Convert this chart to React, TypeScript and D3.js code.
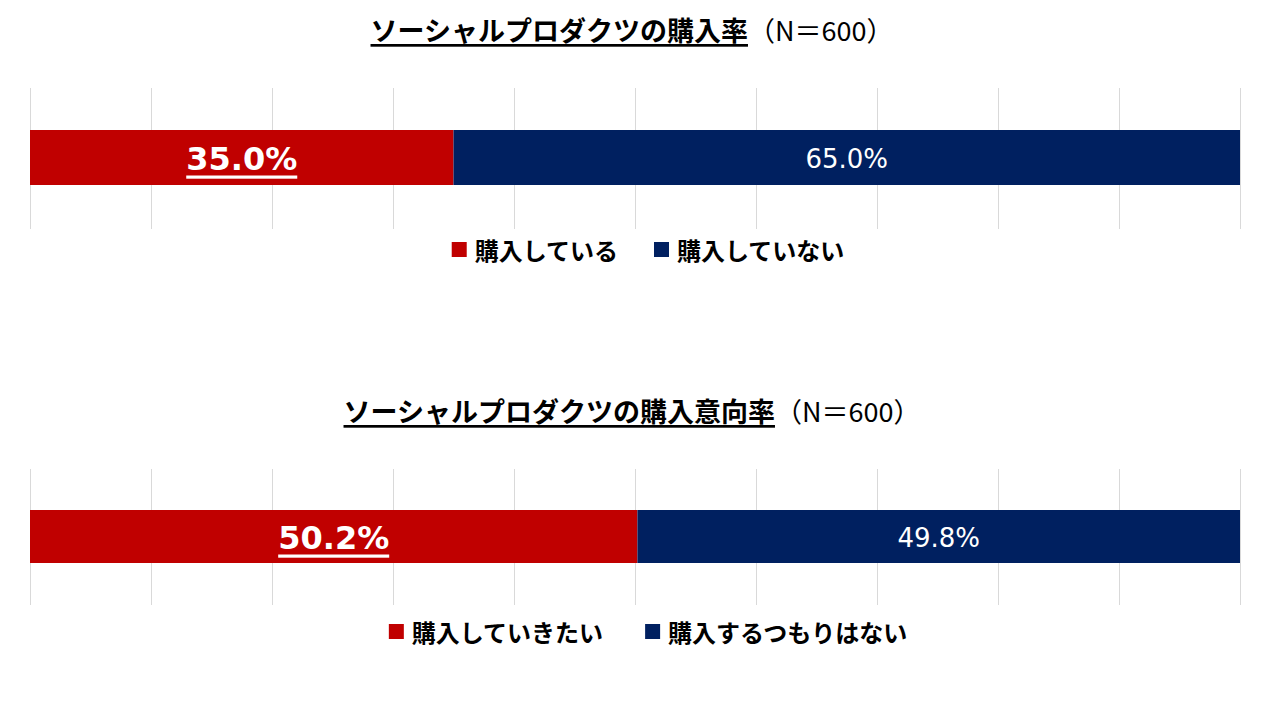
import { useEffect, useRef } from 'react';
import * as d3 from 'd3';

// chart data
const titles = ['ソーシャルプロダクツの購入率', 'ソーシャルプロダクツの購入意向率'];
const sampleNote = '（N＝600）';
const seriesA = [35.0, 50.2]; // red segment
const seriesB = [65.0, 49.8]; // navy segment
const legendA = ['購入している', '購入していきたい'];
const legendB = ['購入していない', '購入するつもりはない'];
const gridTicks = [0, 10, 20, 30, 40, 50, 60, 70, 80, 90, 100];

const RED = '#C00000';
const NAVY = '#002060';
const FONT = '"DejaVu Sans", "Noto Sans CJK JP", sans-serif';
const JP = '"Noto Sans CJK JP", sans-serif';

const panels = [
  { titleY: 29, gridTop: 88, gridBottom: 229, barTop: 130, barBottom: 185, legendY: 249, gap: 36 },
  { titleY: 410, gridTop: 469, gridBottom: 605, barTop: 510, barBottom: 563, legendY: 631, gap: 42 },
];

const App = () => {
  const svgRef = useRef<SVGSVGElement | null>(null);

  useEffect(() => {
    if (!svgRef.current) return;
    const svg = d3.select(svgRef.current);
    svg.selectAll('*').remove();

    const x = d3.scaleLinear().domain([0, 100]).range([30, 1240]);

    panels.forEach((p, i) => {
      const g = svg.append('g');

      // title with underlined main part
      const title = g.append('text')
        .attr('x', 632)
        .attr('y', p.titleY)
        .attr('text-anchor', 'middle')
        .attr('dominant-baseline', 'central')
        .attr('font-family', JP)
        .attr('font-size', 27)
        .attr('fill', '#000');
      title.append('tspan')
        .attr('font-weight', 'bold')
        .attr('text-decoration', 'underline')
        .text(titles[i]);
      title.append('tspan')
        .attr('font-weight', 'normal')
        .text(sampleNote);

      // vertical gridlines
      g.selectAll('line.grid')
        .data(gridTicks)
        .join('line')
        .attr('class', 'grid')
        .attr('x1', (d) => x(d) + 0.5)
        .attr('x2', (d) => x(d) + 0.5)
        .attr('y1', p.gridTop)
        .attr('y2', p.gridBottom)
        .attr('stroke', '#D9D9D9')
        .attr('stroke-width', 1);

      const segs = [
        { start: 0, value: seriesA[i], color: RED, strong: true },
        { start: seriesA[i], value: seriesB[i], color: NAVY, strong: false },
      ];

      g.selectAll('rect.seg')
        .data(segs)
        .join('rect')
        .attr('class', 'seg')
        .attr('x', (d) => x(d.start))
        .attr('y', p.barTop)
        .attr('width', (d) => x(d.start + d.value) - x(d.start))
        .attr('height', p.barBottom - p.barTop)
        .attr('fill', (d) => d.color);

      g.selectAll('text.lbl')
        .data(segs)
        .join('text')
        .attr('class', 'lbl')
        .attr('x', (d) => (x(d.start) + x(d.start + d.value)) / 2)
        .attr('y', (p.barTop + p.barBottom) / 2 + 1)
        .attr('text-anchor', 'middle')
        .attr('dominant-baseline', 'central')
        .attr('font-family', FONT)
        .attr('font-size', (d) => (d.strong ? 32 : 26))
        .attr('font-weight', (d) => (d.strong ? 'bold' : 'normal'))
        .attr('text-decoration', (d) => (d.strong ? 'underline' : 'none'))
        .attr('fill', '#fff')
        .text((d) => `${d.value.toFixed(1)}%`);

      // legend
      const items = [
        { label: legendA[i], color: RED },
        { label: legendB[i], color: NAVY },
      ];
      const leg = g.append('g');
      let cx = 0;
      items.forEach((it, k) => {
        const item = leg.append('g').attr('transform', `translate(${cx},0)`);
        item.append('rect')
          .attr('x', 0)
          .attr('y', p.legendY - 7)
          .attr('width', 15)
          .attr('height', 15)
          .attr('fill', it.color);
        const t = item.append('text')
          .attr('x', 23)
          .attr('y', p.legendY)
          .attr('dominant-baseline', 'central')
          .attr('font-family', JP)
          .attr('font-size', 24)
          .attr('font-weight', 'bold')
          .attr('fill', '#000')
          .text(it.label);
        const w = (t.node() as SVGTextElement).getComputedTextLength();
        cx += 23 + w + (k === 0 ? p.gap : 0);
      });
      leg.attr('transform', `translate(${648 - cx / 2},0)`);
    });
  }, []);

  return (
    <svg
      ref={svgRef}
      width={1280}
      height={720}
      style={{ position: 'absolute', left: 0, top: 0, background: '#fff' }}
    />
  );
};

export default App;
